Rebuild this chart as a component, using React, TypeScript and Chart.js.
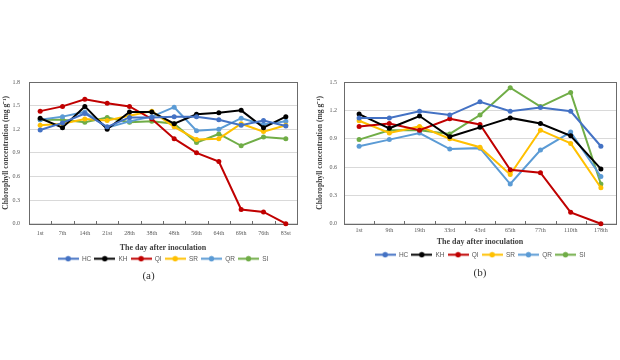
import React, { useEffect, useRef } from "react";
import { Chart, registerables } from "chart.js";

Chart.register(...registerables);

// ---------- data ----------
const seriesNames = ["HC", "KH", "QI", "SR", "QR", "SI"];
const seriesColors = ["#4472C4", "#000000", "#C00000", "#FFC000", "#5B9BD5", "#70AD47"];

// Panel (a)
const daysA = ["1st", "7th", "14th", "21st", "28th", "38th", "48th", "56th", "64th", "69th", "76th", "83st"];
const hcA = [1.19, 1.28, 1.4, 1.23, 1.35, 1.35, 1.36, 1.36, 1.32, 1.25, 1.31, 1.24];
const khA = [1.34, 1.22, 1.49, 1.2, 1.42, 1.42, 1.27, 1.39, 1.41, 1.44, 1.22, 1.36];
const qiA = [1.43, 1.49, 1.58, 1.53, 1.49, 1.33, 1.08, 0.9, 0.79, 0.18, 0.15, 0.0];
const srA = [1.25, 1.27, 1.33, 1.31, 1.37, 1.43, 1.23, 1.07, 1.08, 1.27, 1.17, 1.25];
const qrA = [1.32, 1.36, 1.42, 1.22, 1.3, 1.36, 1.48, 1.18, 1.2, 1.34, 1.26, 1.3];
const siA = [1.32, 1.32, 1.29, 1.35, 1.29, 1.3, 1.27, 1.03, 1.14, 0.99, 1.1, 1.08];
const yMaxA = 1.8;

// Panel (b)
const daysB = ["1st", "9th", "19th", "33rd", "43rd", "65th", "77th", "110th", "178th"];
const hcB = [1.12, 1.12, 1.19, 1.15, 1.29, 1.19, 1.23, 1.19, 0.82];
const khB = [1.16, 1.01, 1.14, 0.92, 1.02, 1.12, 1.06, 0.93, 0.58];
const qiB = [1.03, 1.06, 0.99, 1.11, 1.05, 0.57, 0.54, 0.12, 0.0];
const srB = [1.09, 0.96, 1.03, 0.9, 0.81, 0.52, 0.99, 0.85, 0.38];
const qrB = [0.82, 0.89, 0.96, 0.79, 0.8, 0.42, 0.78, 0.97, 0.5];
const siB = [0.89, 0.99, 0.99, 0.95, 1.15, 1.44, 1.24, 1.39, 0.42];
const yMaxB = 1.5;

const yStep = 0.3;
const xTitle = "The day after inoculation";
const yTitle = "Chlorophyll concentration (mg g\u207B\u00B9)";

// ---------- styling helpers ----------
const SERIF = "'Liberation Serif', 'Times New Roman', serif";
const SANS = "'Liberation Sans', Arial, sans-serif";

function makeLegendIcon(color: string) {
  const c = document.createElement("canvas");
  c.width = 21;
  c.height = 7;
  const ctx = c.getContext("2d")!;
  ctx.strokeStyle = color;
  ctx.lineWidth = 2;
  ctx.beginPath();
  ctx.moveTo(0, 3.5);
  ctx.lineTo(21, 3.5);
  ctx.stroke();
  ctx.fillStyle = color;
  ctx.beginPath();
  ctx.arc(10.5, 3.5, 2.7, 0, Math.PI * 2);
  ctx.fill();
  return c;
}

const framePlugin = {
  id: "frame",
  beforeDatasetsDraw(chart: any) {
    const { ctx, chartArea } = chart;
    const { left, right, top, bottom } = chartArea;
    ctx.save();
    ctx.strokeStyle = "#6b6b6b";
    ctx.lineWidth = 1;
    ctx.strokeRect(Math.round(left) + 0.5, Math.round(top) + 0.5, Math.round(right - left), Math.round(bottom - top));
    const n = chart.data.labels.length;
    const w = (right - left) / n;
    ctx.beginPath();
    for (let i = 1; i < n; i++) {
      const x = Math.round(left + w * i) + 0.5;
      ctx.moveTo(x, Math.round(bottom));
      ctx.lineTo(x, Math.round(bottom) - 3);
    }
    ctx.stroke();
    ctx.restore();
  },
};

type PanelProps = {
  labels: string[];
  series: number[][];
  yMax: number;
  tag: string;
  left: number;
  axisWidth: number;
  yTitlePad: number;
  yTickPad: number;
  padRight: number;
  xTickPad: number;
  xTitlePad: number;
  xTitlePadBottom: number;
  tagPad: number;
  tagFull: boolean;
  bottomPad: number;
};

function Panel(p: PanelProps) {
  const ref = useRef<HTMLCanvasElement>(null);
  useEffect(() => {
    const icons = seriesColors.map(makeLegendIcon);
    const chart = new Chart(ref.current!, {
      type: "line",
      data: {
        labels: p.labels,
        datasets: p.series.map((d, i) => ({
          label: seriesNames[i],
          data: d,
          borderColor: seriesColors[i],
          backgroundColor: seriesColors[i],
          pointBackgroundColor: seriesColors[i],
          pointBorderColor: seriesColors[i],
          borderWidth: 2,
          pointRadius: 2.5,
          pointBorderWidth: 0,
          tension: 0,
          clip: false as any,
        })),
      },
      options: {
        animation: false,
        responsive: false,
        events: [],
        layout: { padding: { top: 82, left: 0, right: p.padRight, bottom: p.bottomPad } },
        scales: {
          x: {
            offset: true,
            grid: { display: false, drawTicks: false },
            border: { display: false },
            ticks: {
              font: { family: SERIF, size: 6 },
              color: "#595959",
              padding: p.xTickPad,
              maxRotation: 0,
              autoSkip: false,
            },
            title: {
              display: true,
              text: xTitle,
              font: { family: SERIF, size: 8, weight: "bold" },
              color: "#404040",
              padding: { top: p.xTitlePad, bottom: p.xTitlePadBottom },
            },
          },
          y: {
            min: 0,
            max: p.yMax,
            afterFit: (s: any) => {
              s.width = p.axisWidth;
            },
            grid: { color: "#d9d9d9", drawTicks: false, lineWidth: 1 },
            border: { display: false },
            ticks: {
              stepSize: yStep,
              font: { family: SERIF, size: 6 },
              color: "#595959",
              padding: p.yTickPad,
              callback: (v: any) => Number(v).toFixed(1),
            },
            title: {
              display: true,
              text: yTitle,
              font: { family: SERIF, size: 7.6, weight: "bold" },
              color: "#404040",
              padding: { top: p.yTitlePad, bottom: 0 },
            },
          },
        },
        plugins: {
          tooltip: { enabled: false },
          legend: {
            position: "bottom",
            fullSize: false,
            labels: {
              usePointStyle: true,
              pointStyleWidth: 21,
              boxHeight: 7,
              padding: 3,
              font: { family: SANS, size: 6.5 },
              color: "#595959",
              generateLabels: (chart: any) => {
                const items = Chart.defaults.plugins.legend.labels.generateLabels(chart);
                return items.map((it: any, i: number) => ({ ...it, pointStyle: icons[i] }));
              },
            },
          },
          title: {
            display: true,
            position: "bottom",
            fullSize: p.tagFull,
            text: p.tag,
            font: { family: SERIF, size: 11, weight: "normal", lineHeight: "8px" },
            color: "#333333",
            padding: { top: p.tagPad, bottom: 0 },
          },
        },
      },
      plugins: [framePlugin],
    } as any);
    return () => chart.destroy();
  }, []);
  return (
    <canvas
      ref={ref}
      width={310}
      height={300}
      style={{ position: "absolute", left: p.left, top: 0, width: 310, height: 300 }}
    />
  );
}

export default function App() {
  useEffect(() => {
    document.body.style.margin = "0";
  }, []);
  return (
    <div style={{ position: "fixed", left: 0, top: 0, width: 620, height: 360, background: "#ffffff", overflow: "hidden" }}>
      <Panel
        labels={daysA}
        series={[hcA, khA, qiA, srA, qrA, siA]}
        yMax={yMaxA}
        tag="(a)"
        left={0}
        axisWidth={29}
        yTitlePad={1}
        yTickPad={9}
        padRight={13}
        xTickPad={6}
        xTitlePad={0}
        xTitlePadBottom={0}
        tagPad={0}
        tagFull={true}
        bottomPad={20}
      />
      <Panel
        labels={daysB}
        series={[hcB, khB, qiB, srB, qrB, siB]}
        yMax={yMaxB}
        tag="(b)"
        left={310}
        axisWidth={34}
        yTitlePad={5}
        yTickPad={7}
        padRight={2}
        xTickPad={3}
        xTitlePad={0}
        xTitlePadBottom={2}
        tagPad={1}
        tagFull={false}
        bottomPad={23}
      />
    </div>
  );
}
